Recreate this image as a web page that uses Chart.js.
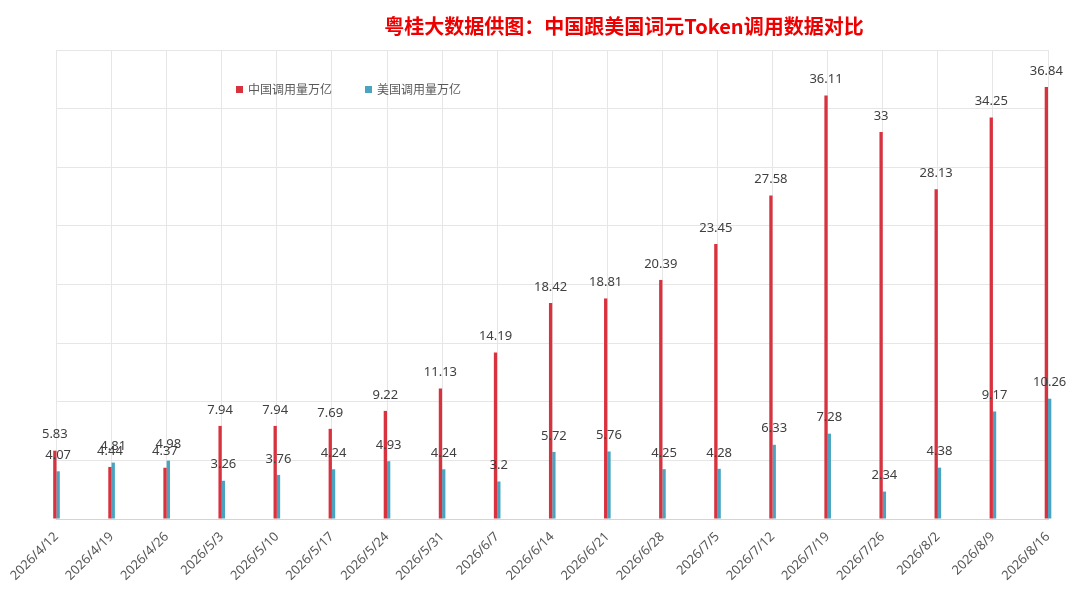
<html>
<head>
  <meta charset="utf-8" />
  <title>中国跟美国词元Token调用数据对比</title>
  <script src="https://cdn.jsdelivr.net/npm/chart.js"></script>
  <style>
    body { margin: 0; background: #fff; }
    #box { width: 1080px; height: 602px; }
  </style>
</head>
<body>
  <div id="box">
    <canvas id="tokenChart"></canvas>
  </div>
  <script>
  const chartTitle = '粤桂大数据供图：中国跟美国词元Token调用数据对比'
  const weeks = ['2026/4/12', '2026/4/19', '2026/4/26', '2026/5/3', '2026/5/10', '2026/5/17',
    '2026/5/24', '2026/5/31', '2026/6/7', '2026/6/14', '2026/6/21', '2026/6/28', '2026/7/5',
    '2026/7/12', '2026/7/19', '2026/7/26', '2026/8/2', '2026/8/9', '2026/8/16']
  const chinaCalls = [5.83, 4.44, 4.37, 7.94, 7.94, 7.69, 9.22, 11.13, 14.19, 18.42, 18.81,
    20.39, 23.45, 27.58, 36.11, 33, 28.13, 34.25, 36.84]
  const usCalls = [4.07, 4.81, 4.98, 3.26, 3.76, 4.24, 4.93, 4.24, 3.2, 5.72, 5.76,
    4.25, 4.28, 6.33, 7.28, 2.34, 4.38, 9.17, 10.26]
  const seriesNames = ['中国调用量万亿', '美国调用量万亿']

  // title, legend inside the plot, and value labels over each bar
  const overlay = {
    id: 'overlay',
    afterDatasetsDraw(chart) {
      const ctx = chart.ctx
      ctx.save()

      ctx.fillStyle = '#ee0000'
      ctx.font = 'bold 20px "Noto Sans CJK SC", sans-serif'
      ctx.textAlign = 'center'
      ctx.textBaseline = 'middle'
      ctx.fillText(chartTitle, 624, 26)

      ctx.font = '13px "Noto Sans", "Noto Sans CJK SC", sans-serif'
      ctx.fillStyle = '#404040'
      chart.data.datasets.forEach((ds, i) => {
        chart.getDatasetMeta(i).data.forEach((bar, j) => {
          ctx.fillText(String(ds.data[j]), bar.x, bar.y - 16)
        })
      })

      const legendX = [236, 365]
      ctx.font = '12px "Noto Sans CJK SC", sans-serif'
      ctx.textAlign = 'left'
      chart.data.datasets.forEach((ds, i) => {
        ctx.fillStyle = ds.backgroundColor
        ctx.fillRect(legendX[i], 86, 7, 7)
        ctx.fillStyle = '#595959'
        ctx.fillText(ds.label, legendX[i] + 12, 89)
      })
      ctx.restore()
    }
  }

  const config = {
    type: 'bar',
    data: {
      labels: weeks,
      datasets: [{
        label: seriesNames[0],
        data: chinaCalls,
        backgroundColor: '#d9323f',
        categoryPercentage: 0.12,
        barPercentage: 1,
        clip: false
      }, {
        label: seriesNames[1],
        data: usCalls,
        backgroundColor: '#4aa3c0',
        categoryPercentage: 0.12,
        barPercentage: 1,
        clip: false
      }]
    },
    options: {
      responsive: true,
      maintainAspectRatio: false,
      animation: false,
      layout: {
        padding: { top: 50, left: 56.5, right: 32, bottom: 0 }
      },
      scales: {
        x: {
          offset: false,
          grid: { color: '#e6e6e6', drawTicks: false, offset: false },
          border: { color: '#d4d4d4' },
          ticks: {
            color: '#595959',
            font: { family: '"Noto Sans", sans-serif', size: 13 },
            minRotation: 45,
            maxRotation: 45,
            padding: 10
          },
          afterFit(scale) { scale.height = 83 }
        },
        y: {
          min: 0,
          max: 40,
          ticks: { display: false, stepSize: 5 },
          grid: { color: '#e6e6e6', drawTicks: false },
          border: { display: false },
          afterFit(scale) { scale.width = 0 }
        }
      },
      plugins: {
        legend: { display: false },
        title: { display: false },
        tooltip: { enabled: false }
      }
    },
    plugins: [overlay]
  }

  new Chart(document.getElementById('tokenChart'), config)
  </script>
</body>
</html>
